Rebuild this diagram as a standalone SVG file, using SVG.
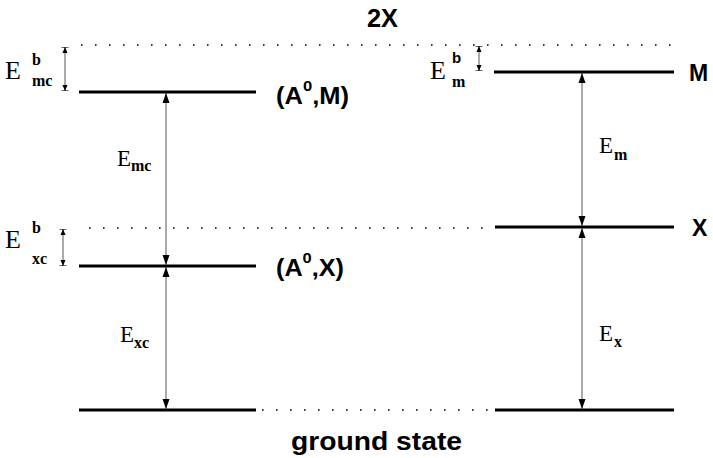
<svg xmlns="http://www.w3.org/2000/svg" width="713" height="458" viewBox="0 0 713 458">
<style>
.lvl{stroke:#000;stroke-width:3.2;fill:none}
.dot{stroke:#000;stroke-width:1.6;stroke-dasharray:1.6 12.4;fill:none}
.arr{stroke:#555;stroke-width:1;fill:none}
.lab{font-family:"Liberation Sans",Arial,sans-serif;font-weight:bold;fill:#000}
.E{font-family:"Liberation Serif","Times New Roman",serif;font-size:23px;fill:#000}
.Eb{font-size:26px}
.sub{font-family:"Liberation Serif","Times New Roman",serif;font-weight:bold;font-size:16px;fill:#000}
</style>
<defs>
<marker id="ah" viewBox="0 0 10 8" refX="10" refY="4" markerWidth="10" markerHeight="8" markerUnits="userSpaceOnUse" orient="auto-start-reverse">
<path d="M0,0.5 L10,4 L0,7.5 z" fill="#000"/>
</marker>
<marker id="sm" viewBox="0 0 6 8" refX="6" refY="4" markerWidth="6" markerHeight="8" markerUnits="userSpaceOnUse" orient="auto-start-reverse">
<path d="M0,1.5 L6,4 L0,6.5 z" fill="#000"/>
<path d="M6,0.5 L6,7.5" stroke="#000" stroke-width="1.2"/>
</marker>
</defs>
<rect width="713" height="458" fill="#fff"/>

<g id="level-2X">
<line class="dot" x1="81" y1="45" x2="678" y2="45"/>
<text class="lab" x="367" y="27" font-size="25" textLength="31" lengthAdjust="spacingAndGlyphs">2X</text>
</g>

<g id="level-A0M">
<line class="lvl" x1="79" y1="92" x2="256" y2="92"/>
<text class="lab" x="276" y="104" font-size="23" textLength="73" lengthAdjust="spacingAndGlyphs">(A<tspan font-size="15" dy="-13">0</tspan><tspan dy="13">,M)</tspan></text>
</g>

<g id="level-A0X">
<line class="dot" x1="89" y1="228" x2="490" y2="228"/>
<line class="lvl" x1="79" y1="266" x2="256" y2="266"/>
<text class="lab" x="276" y="276" font-size="23" textLength="68" lengthAdjust="spacingAndGlyphs">(A<tspan font-size="15" dy="-13">0</tspan><tspan dy="13">,X)</tspan></text>
</g>

<g id="level-M">
<line class="lvl" x1="494" y1="72" x2="674" y2="72"/>
<text class="lab" x="689" y="81" font-size="23">M</text>
</g>

<g id="level-X">
<line class="lvl" x1="495" y1="227" x2="674" y2="227"/>
<text class="lab" x="692" y="236" font-size="23">X</text>
</g>

<g id="level-ground">
<line class="lvl" x1="79" y1="410" x2="256" y2="410"/>
<line class="dot" x1="262" y1="410" x2="490" y2="410"/>
<line class="lvl" x1="495" y1="410" x2="674" y2="410"/>
<text class="lab" x="291" y="450" font-size="25" textLength="171" lengthAdjust="spacingAndGlyphs">ground state</text>
</g>

<g id="connectors">
<line class="arr" x1="65" y1="47" x2="65" y2="91" marker-start="url(#sm)" marker-end="url(#sm)"/>
<line class="arr" x1="63" y1="229" x2="63" y2="266" marker-start="url(#sm)" marker-end="url(#sm)"/>
<line class="arr" x1="479" y1="46" x2="479" y2="71" marker-start="url(#sm)" marker-end="url(#sm)"/>
<line class="arr" x1="166" y1="93" x2="166" y2="265" marker-start="url(#ah)" marker-end="url(#ah)"/>
<line class="arr" x1="166" y1="267" x2="166" y2="409" marker-start="url(#ah)" marker-end="url(#ah)"/>
<line class="arr" x1="582" y1="73" x2="582" y2="226" marker-start="url(#ah)" marker-end="url(#ah)"/>
<line class="arr" x1="582" y1="228" x2="582" y2="409" marker-start="url(#ah)" marker-end="url(#ah)"/>
</g>

<g id="labels">
<text class="E Eb" x="5" y="79">E</text>
<text class="sub" x="32" y="65">b</text>
<text class="sub" x="32" y="86">mc</text>

<text class="E Eb" x="5" y="248">E</text>
<text class="sub" x="32" y="233">b</text>
<text class="sub" x="32" y="264">xc</text>

<text class="E Eb" x="430" y="79">E</text>
<text class="lab" x="452" y="63" font-size="15">b</text>
<text class="sub" x="452" y="87">m</text>

<text class="E" x="117" y="166">E</text>
<text class="sub" x="131" y="171">mc</text>

<text class="E" x="599" y="153">E</text>
<text class="sub" x="614" y="160">m</text>

<text class="E" x="120" y="342">E</text>
<text class="sub" x="134" y="348">xc</text>

<text class="E" x="599" y="341">E</text>
<text class="sub" x="614" y="347">x</text>
</g>
</svg>
